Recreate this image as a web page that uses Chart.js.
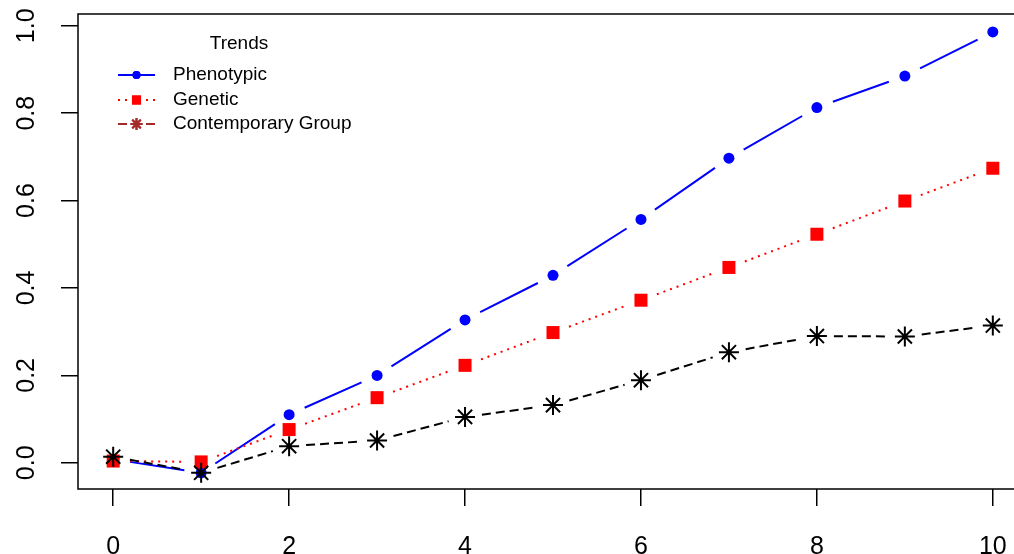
<!DOCTYPE html>
<html>
<head>
<meta charset="utf-8">
<script src="https://cdn.jsdelivr.net/npm/chart.js@4/dist/chart.umd.min.js"></script>
<style>
  html, body { margin: 0; padding: 0; background: #fff; overflow: hidden; }
  .trend-chart { position: relative; width: 1050px; height: 588px; }
</style>
</head>
<body>
<div class="trend-chart">
  <canvas class="js-trend-chart__canvas"></canvas>
</div>
<script>
const years = [0, 1, 2, 3, 4, 5, 6, 7, 8, 9, 10];
const phenotypic = [0.008, -0.023, 0.110, 0.200, 0.327, 0.429, 0.557, 0.697, 0.813, 0.885, 0.986];
const genetic = [0.004, 0.002, 0.076, 0.149, 0.223, 0.298, 0.372, 0.447, 0.523, 0.599, 0.674];
const contemporary = [0.014, -0.023, 0.038, 0.051, 0.105, 0.132, 0.189, 0.253, 0.290, 0.289, 0.314];
const xTicks = [0, 2, 4, 6, 8, 10];
const yTicks = [0, 0.2, 0.4, 0.6, 0.8, 1.0];
const seriesNames = ['Phenotypic', 'Genetic', 'Contemporary Group'];
const legendTitle = 'Trends';

const FONT = 'Liberation Sans, Arial, sans-serif';
const GAP = 17;

function toPoints(values) {
  return values.map((v, i) => ({ x: years[i], y: v }));
}

// R-style "type = b" lines: segments stop short of each point
const gappedLines = {
  id: 'gappedLines',
  beforeDatasetDraw(chart, args) {
    const ds = chart.data.datasets[args.index];
    const pts = args.meta.data;
    const { ctx } = chart;
    ctx.save();
    ctx.strokeStyle = ds.lineColor;
    ctx.lineWidth = 2;
    ctx.setLineDash(ds.lineDash);
    for (let i = 0; i < pts.length - 1; i++) {
      const a = pts[i];
      const b = pts[i + 1];
      const dx = b.x - a.x;
      const dy = b.y - a.y;
      const len = Math.hypot(dx, dy);
      if (len <= GAP * 2) continue;
      const ux = dx / len;
      const uy = dy / len;
      ctx.beginPath();
      ctx.moveTo(a.x + ux * GAP, a.y + uy * GAP);
      ctx.lineTo(b.x - ux * GAP, b.y - uy * GAP);
      ctx.stroke();
    }
    ctx.restore();
  },
};

const frameAndLabels = {
  id: 'frameAndLabels',
  afterDraw(chart) {
    const { ctx, chartArea } = chart;
    const yScale = chart.scales.y;
    ctx.save();
    ctx.strokeStyle = '#000';
    ctx.lineWidth = 1.5;
    ctx.strokeRect(chartArea.left, chartArea.top, chartArea.right - chartArea.left, chartArea.bottom - chartArea.top);

    // rotated y tick labels
    ctx.fillStyle = '#000';
    ctx.font = '25px ' + FONT;
    ctx.textAlign = 'center';
    ctx.textBaseline = 'middle';
    yScale.ticks.forEach((t) => {
      const py = yScale.getPixelForValue(t.value);
      ctx.save();
      ctx.translate(27, py);
      ctx.rotate(-Math.PI / 2);
      ctx.fillText(t.value.toFixed(1), 0, 0);
      ctx.restore();
    });

    // legend (no box)
    ctx.font = '19px ' + FONT;
    ctx.fillText(legendTitle, 239, 44);
    const rows = [75, 100, 124];
    const legendColors = ['#0000FF', '#FF0000', '#A52A2A'];
    const legendDash = [[], [2, 5], [9, 5]];
    rows.forEach((ry, i) => {
      ctx.strokeStyle = legendColors[i];
      ctx.fillStyle = legendColors[i];
      ctx.lineWidth = 2;
      ctx.setLineDash(legendDash[i]);
      ctx.beginPath();
      ctx.moveTo(118, ry);
      ctx.lineTo(155, ry);
      ctx.stroke();
      ctx.setLineDash([]);
      const style = ['circle', 'rect', 'star'][i];
      const radius = [3, 5, 6][i];
      Chart.helpers.drawPoint(ctx, { pointStyle: style, radius, borderWidth: 1.5, rotation: 0 }, 136.5, ry);
      if (style !== 'star') ctx.fill();
      ctx.stroke();
      ctx.fillStyle = '#000';
      ctx.textAlign = 'left';
      ctx.fillText(seriesNames[i], 173, ry);
      ctx.textAlign = 'center';
    });
    ctx.restore();
  },
};

const ctx = document.querySelector('.js-trend-chart__canvas').getContext('2d');
// eslint-disable-next-line no-unused-vars
const chart = new Chart(ctx, {
  type: 'line',
  data: {
    datasets: [
      {
        label: seriesNames[0],
        data: toPoints(phenotypic),
        showLine: false,
        lineColor: '#0000FF',
        lineDash: [],
        pointStyle: 'circle',
        pointRadius: 5.5,
        pointBackgroundColor: '#0000FF',
        pointBorderColor: '#0000FF',
        pointBorderWidth: 0,
        order: 2,
      },
      {
        label: seriesNames[1],
        data: toPoints(genetic),
        showLine: false,
        lineColor: '#FF0000',
        lineDash: [2, 5],
        pointStyle: 'rect',
        pointRadius: 9.2,
        pointBackgroundColor: '#FF0000',
        pointBorderColor: '#FF0000',
        pointBorderWidth: 0,
        order: 1,
      },
      {
        label: seriesNames[2],
        data: toPoints(contemporary),
        showLine: false,
        lineColor: '#000000',
        lineDash: [9, 5],
        pointStyle: 'star',
        pointRadius: 10,
        pointBackgroundColor: '#000000',
        pointBorderColor: '#000000',
        pointBorderWidth: 2,
        order: 0,
      },
    ],
  },
  options: {
    responsive: true,
    maintainAspectRatio: false,
    animation: false,
    events: [],
    layout: { padding: { left: 61, top: 14, right: 22, bottom: 0 } },
    plugins: {
      legend: { display: false },
      tooltip: { enabled: false },
    },
    scales: {
      x: {
        type: 'linear',
        min: -0.4,
        max: 10.4,
        afterBuildTicks(scale) { scale.ticks = xTicks.map((v) => ({ value: v })); },
        grid: { drawOnChartArea: false, tickLength: 17, color: '#000', lineWidth: 1.5 },
        border: { display: false },
        ticks: {
          color: '#000',
          font: { family: FONT, size: 25 },
          padding: 26,
          maxRotation: 0,
          autoSkip: false,
        },
      },
      y: {
        type: 'linear',
        min: -0.06,
        max: 1.027,
        afterBuildTicks(scale) { scale.ticks = yTicks.map((v) => ({ value: v })); },
        grid: { drawOnChartArea: false, tickLength: 17, color: '#000', lineWidth: 1.5 },
        border: { display: false },
        ticks: { display: false },
      },
    },
  },
  plugins: [gappedLines, frameAndLabels],
});
</script>
</body>
</html>
